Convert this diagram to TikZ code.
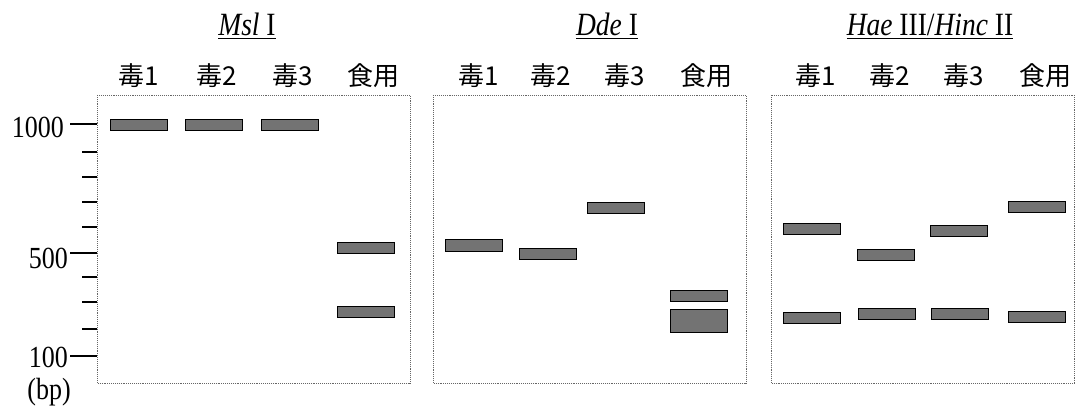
\documentclass[tikz,border=0pt]{standalone}
\usepackage{fontspec}
\setmainfont{Liberation Serif}
\newfontfamily\cjk{Noto Sans CJK JP}
\newcommand{\vst}[1]{\scalebox{1}[1.18]{#1}}
\begin{document}
\begin{tikzpicture}[x=1pt,y=-1pt,
  gelbox/.style={draw=black!60,line width=0.9pt,densely dotted},
  band/.style={draw=black,line width=0.9pt,fill=black!55,rectangle,inner sep=0pt,minimum width=57pt,minimum height=11pt},
  lanelab/.style={font=\cjk\fontsize{26}{30}\selectfont,anchor=base,inner sep=0pt},
  title/.style={font=\fontsize{27.5}{32}\selectfont,anchor=base,inner sep=0pt},
  sizelab/.style={font=\fontsize{26}{30}\selectfont,anchor=east,inner sep=0pt},
  majortick/.style={line width=2.2pt},
  minortick/.style={line width=2.2pt}]
\useasboundingbox (0,0) rectangle (1076,411);
% gel panels
\draw[gelbox] (97,95) rectangle (410,383);
\draw[gelbox] (433,95) rectangle (746,383);
\draw[gelbox] (771,95) rectangle (1074,383);
% titles
\node[title] (t1) at (247,36) {\vst{\underline{\textit{Msl} I}}};
\node[title] (t2) at (607,36) {\vst{\underline{\textit{Dde} I}}};
\node[title] (t3) at (930,36) {\vst{\underline{\textit{Hae} III/\textit{Hinc} II}}};
% lane labels
\node[lanelab] (a1) at (139,86) {毒1};
\node[lanelab] (a2) at (217,86) {毒2};
\node[lanelab] (a3) at (293,86) {毒3};
\node[lanelab] (a4) at (373,86) {食用};
\node[lanelab] (b1) at (479,86) {毒1};
\node[lanelab] (b2) at (551,86) {毒2};
\node[lanelab] (b3) at (625,86) {毒3};
\node[lanelab] (b4) at (706,86) {食用};
\node[lanelab] (c1) at (816,86) {毒1};
\node[lanelab] (c2) at (890,86) {毒2};
\node[lanelab] (c3) at (964,86) {毒3};
\node[lanelab] (c4) at (1045,86) {食用};
% axis
\foreach \yy in {124,253,356} \draw[majortick] (70,\yy) -- (97,\yy);
\foreach \yy in {152,177,202,227,277,302,329} \draw[minortick] (82,\yy) -- (97,\yy);
\node[sizelab] (s1000) at (64,127) {\vst{1000}};
\node[sizelab] (s500) at (68,258) {\vst{500}};
\node[sizelab] (s100) at (68,357) {\vst{100}};
\node[font=\fontsize{26}{30}\selectfont,inner sep=0pt] (bp) at (49,392) {\vst{(bp)}};
% panel 1 bands
\node[band] (p1a) at (138.5,124.5) {};
\node[band] (p1b) at (213.5,124.5) {};
\node[band] (p1c) at (290,124.5) {};
\node[band] (p1d) at (365.5,248) {};
\node[band] (p1e) at (365.5,312) {};
% panel 2 bands
\node[band,minimum height=12pt] (p2a) at (474,245) {};
\node[band] (p2b) at (548,253.5) {};
\node[band] (p2c) at (616,207.5) {};
\node[band] (p2d) at (699,295.5) {};
\node[band,minimum height=23pt] (p2e) at (699,320.5) {};
% panel 3 bands
\node[band] (p3a) at (811.5,228.5) {};
\node[band] (p3b) at (885.5,254.5) {};
\node[band] (p3c) at (958.5,230.5) {};
\node[band] (p3d) at (1037,207) {};
\node[band] (p3e) at (811.5,317.5) {};
\node[band] (p3f) at (887,313.5) {};
\node[band] (p3g) at (960,313.5) {};
\node[band] (p3h) at (1037,316.5) {};
\end{tikzpicture}
\end{document}
